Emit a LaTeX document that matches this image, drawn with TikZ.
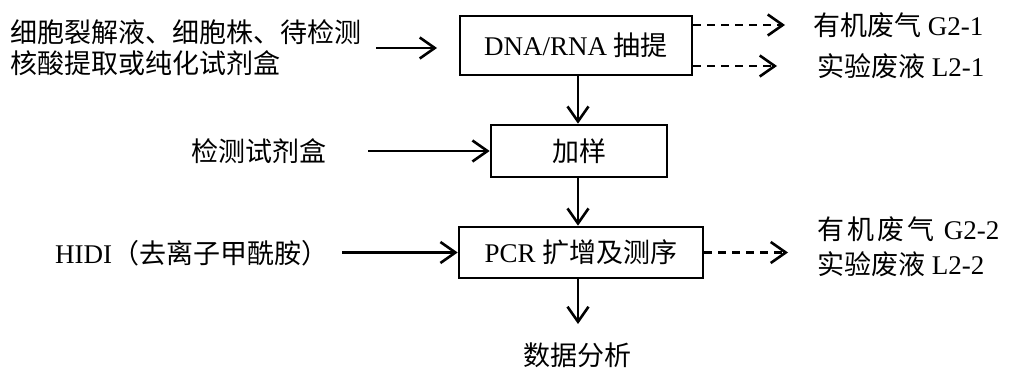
\documentclass[tikz,border=0pt]{standalone}
\usepackage{fontspec}
\setmainfont{Liberation Serif}
\newfontfamily\cjk{Noto Sans CJK SC}
\usetikzlibrary{arrows.meta}
\newcommand\zh[1]{{\cjk #1}}
\begin{document}
\begin{tikzpicture}[x=1pt,y=-1pt,
  every node/.style={font=\fontsize{27}{31}\selectfont, inner sep=0pt},
  box/.style={draw, line width=2.6pt, anchor=center},
  arr/.style={line width=2.6pt, -{Straight Barb[length=15pt,width=21pt,line width=2.6pt]}},
  darr/.style={arr, dash pattern=on 8pt off 6pt},
  lbl/.style={anchor=west, align=left}]
\useasboundingbox (0,0) rectangle (1009,372);
% boxes
\node[box, minimum width=232pt, minimum height=59pt] (b1) at (576,45.5) {DNA/RNA \zh{抽提}};
\node[box, minimum width=176pt, minimum height=52pt] (b2) at (579,151) {\zh{加样}};
\node[box, minimum width=244pt, minimum height=51pt] (b3) at (581,252.5) {PCR \zh{扩增及测序}};
% inputs
\node[lbl] (in1) at (10,48) {\zh{细胞裂解液、细胞株、待检测}\\\zh{核酸提取或纯化试剂盒}};
\node[anchor=center] (in2) at (259,151) {\zh{检测试剂盒}};
\node[lbl] (in3) at (55,253) {HIDI\zh{（去离子甲酰胺）}};
% outputs
\node[lbl] (o1) at (813,25) {\zh{有机废气} G2-1};
\node[lbl] (o2) at (817,66) {\zh{实验废液} L2-1};
\node[lbl] (o3) at (817,229) {\zh{有\hspace{3pt}机\hspace{3pt}废\hspace{3pt}气}\hspace{3pt} G2-2};
\node[lbl] (o4) at (817,264) {\zh{实验废液} L2-2};
\node[anchor=center] (res) at (577,355) {\zh{数据分析}};
% helper coordinates
\coordinate (ax) at (578,0);
\coordinate (s1) at (376,48);
\coordinate (t1) at (437,48);
\coordinate (s2) at (368,151);
\coordinate (s3) at (342,252.5);
\coordinate (d1) at (785,25);
\coordinate (d2) at (777,66);
\coordinate (d3) at (788,252.5);
\coordinate (t4) at (578,324);
% connectors
\draw[arr] (s1) -- (t1);
\draw[arr] (s2) -- (b2.west);
\draw[arr] (s3) -- (b3.west);
\draw[arr] (ax |- b1.south) -- (ax |- b2.north);
\draw[arr] (ax |- b2.south) -- (ax |- b3.north);
\draw[arr] (ax |- b3.south) -- (t4);
\draw[darr] (b1.east |- d1) -- (d1);
\draw[darr] (b1.east |- d2) -- (d2);
\draw[darr] (b3.east |- d3) -- (d3);
\end{tikzpicture}
\end{document}
